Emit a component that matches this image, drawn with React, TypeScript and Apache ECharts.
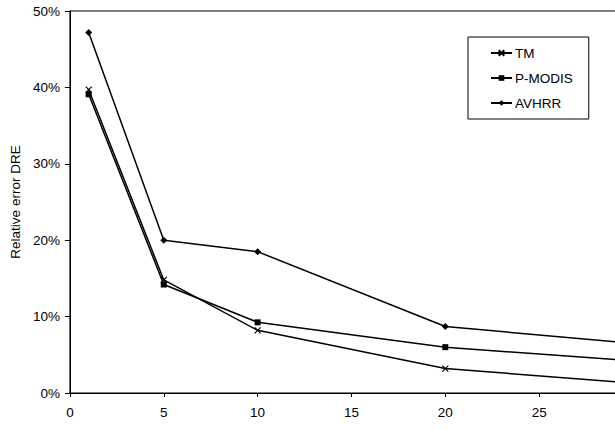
import React, { useEffect, useRef } from "react";
import * as echarts from "echarts";

const xValues = [1, 5, 10, 20, 30];
const tmValues = [39.7, 14.8, 8.2, 3.2, 1.3];
const pmodisValues = [39.1, 14.2, 9.25, 6.0, 4.2];
const avhrrValues = [47.2, 20.0, 18.5, 8.7, 6.5];
const seriesNames = ["TM", "P-MODIS", "AVHRR"];
const yAxisTitle = "Relative error DRE";

const FONT = "Arial, 'Liberation Sans', sans-serif";
const crossPath = "path://M0,0L10,10M10,0L0,10";

export default function App() {
  const ref = useRef<HTMLDivElement>(null);
  useEffect(() => {
    if (!ref.current) return;
    const chart = echarts.init(ref.current, undefined, { renderer: "svg" });
    const pairs = (vals: number[]) => xValues.map((x, i) => [x, vals[i]]);
    const mk = (name: string, vals: number[], symbol: string, size: number) => ({
      name,
      type: "line",
      data: pairs(vals),
      symbol,
      symbolSize: size,
      lineStyle: { color: "#000", width: 1.5 },
      itemStyle: { color: "#000", borderColor: "#000", borderWidth: symbol === crossPath ? 1.2 : 0 },
      emphasis: { disabled: true },
    });
    chart.setOption({
      animation: false,
      backgroundColor: "#fff",
      grid: {
        left: 65,
        top: 11,
        right: 27,
        bottom: 37,
        show: true,
        borderColor: "#000",
        borderWidth: 1,
        backgroundColor: "transparent",
      },
      legend: {
        orient: "vertical",
        left: 468,
        top: 37,
        padding: [9, 16, 9, 22],
        itemGap: 11,
        itemWidth: 21,
        itemHeight: 7,
        borderColor: "#000",
        borderWidth: 1,
        backgroundColor: "#fff",
        textStyle: { fontFamily: FONT, fontSize: 13.5, color: "#000", padding: [0, 0, 0, -2] },
        data: seriesNames,
      },
      xAxis: {
        type: "value",
        min: 0,
        max: 30,
        interval: 5,
        axisLine: { show: true, lineStyle: { color: "#000", width: 1 } },
        axisTick: { show: true, inside: false, length: 4, lineStyle: { color: "#000" } },
        axisLabel: { fontFamily: FONT, fontSize: 13.5, color: "#000", margin: 12, showMaxLabel: false },
        splitLine: { show: false },
      },
      yAxis: {
        type: "value",
        min: 0,
        max: 50,
        interval: 10,
        name: yAxisTitle,
        nameLocation: "middle",
        nameGap: 46,
        nameTextStyle: { fontFamily: FONT, fontSize: 13.5, color: "#000" },
        axisLine: { show: true, lineStyle: { color: "#000", width: 1 } },
        axisTick: { show: true, inside: false, length: 5, lineStyle: { color: "#000" } },
        axisLabel: { fontFamily: FONT, fontSize: 13.5, color: "#000", margin: 10, formatter: "{value}%" },
        splitLine: { show: false },
      },
      series: [
        mk(seriesNames[0], tmValues, crossPath, 6),
        mk(seriesNames[1], pmodisValues, "rect", 6),
        mk(seriesNames[2], avhrrValues, "diamond", 7),
      ],
    });
    return () => chart.dispose();
  }, []);
  return (
    <div
      style={{
        position: "fixed",
        left: 0,
        top: 0,
        width: 615,
        height: 430,
        overflow: "hidden",
        background: "#fff",
      }}
    >
      <div ref={ref} style={{ width: 660, height: 430 }} />
    </div>
  );
}
